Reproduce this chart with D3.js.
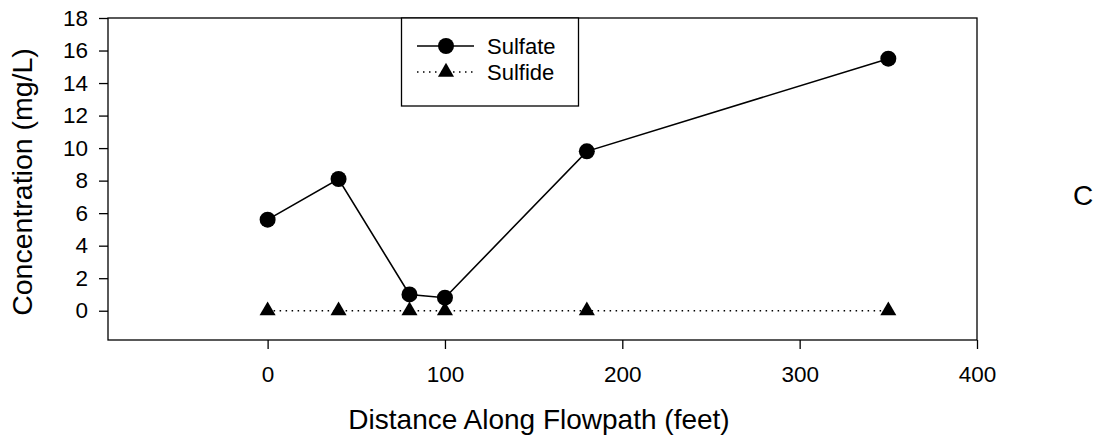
<!DOCTYPE html>
<html>
<head>
<meta charset="utf-8">
<script src="https://cdn.jsdelivr.net/npm/d3@7"></script>
<style>
  html, body { margin: 0; padding: 0; background: #fff; }
  svg { display: block; font-family: Arial, "Liberation Sans", sans-serif; }
</style>
</head>
<body>
<svg id="chart" width="1105" height="441"></svg>
<script>
// Sampling distances along the flowpath (feet)
const distances = [0, 40, 80, 100, 180, 350];
// Measured concentrations (mg/L)
const sulfate = [5.6, 8.1, 1.0, 0.8, 9.8, 15.5];
const sulfide = [0, 0, 0, 0, 0, 0];
// Axis ticks
const xTicks = [0, 100, 200, 300, 400];
const yTicks = [0, 2, 4, 6, 8, 10, 12, 14, 16, 18];
const seriesNames = ["Sulfate", "Sulfide"];

const svg = d3.select("#chart");
const plot = { left: 108, right: 977, top: 18, bottom: 340 };

const x = d3.scaleLinear().domain([-90, 400]).range([plot.left, plot.right]);
const y = d3.scaleLinear().domain([-1.8, 18]).range([plot.bottom, plot.top]);

// Frame
svg.append("rect")
  .attr("x", plot.left).attr("y", plot.top)
  .attr("width", plot.right - plot.left).attr("height", plot.bottom - plot.top)
  .attr("fill", "none").attr("stroke", "#000").attr("stroke-width", 1.3);

// Axes
const xAxis = svg.append("g")
  .attr("transform", `translate(0,${plot.bottom})`)
  .call(d3.axisBottom(x).tickValues(xTicks).tickSize(9).tickPadding(17).tickFormat(d3.format("d")));
const yAxis = svg.append("g")
  .attr("transform", `translate(${plot.left},0)`)
  .call(d3.axisLeft(y).tickValues(yTicks).tickSize(9).tickPadding(11).tickFormat(d3.format("d")));

[xAxis, yAxis].forEach(g => {
  g.select(".domain").remove();
  g.selectAll("line").attr("stroke", "#000").attr("stroke-width", 1.3);
  g.selectAll("text").attr("fill", "#000").style("font-size", "22.5px")
    .style("font-family", "Arial, 'Liberation Sans', sans-serif");
});

// Axis titles
svg.append("text")
  .attr("x", 539).attr("y", 429)
  .attr("text-anchor", "middle").style("font-size", "28px")
  .text("Distance Along Flowpath (feet)");
svg.append("text")
  .attr("transform", `translate(32,182) rotate(-90)`)
  .attr("text-anchor", "middle").style("font-size", "28.5px")
  .text("Concentration (mg/L)");

// Panel label
svg.append("text")
  .attr("x", 1083).attr("y", 205).attr("text-anchor", "middle")
  .style("font-size", "28px").text("C");

const line = d3.line().x(d => x(d[0])).y(d => y(d[1]));
const sulfidePts = distances.map((d, i) => [d, sulfide[i]]);
const sulfatePts = distances.map((d, i) => [d, sulfate[i]]);

const tri = d3.symbol().type(d3.symbolTriangle).size(112);

// Sulfide series: dotted line with triangles
svg.append("path").datum(sulfidePts).attr("d", line)
  .attr("fill", "none").attr("stroke", "#000").attr("stroke-width", 1.5)
  .attr("stroke-dasharray", "1.5,4.5");
svg.selectAll(".tri").data(sulfidePts).join("path")
  .attr("class", "tri")
  .attr("transform", d => `translate(${x(d[0])},${y(d[1])})`)
  .attr("d", tri).attr("fill", "#000");

// Sulfate series: solid line with circles
svg.append("path").datum(sulfatePts).attr("d", line)
  .attr("fill", "none").attr("stroke", "#000").attr("stroke-width", 1.6);
svg.selectAll(".dot").data(sulfatePts).join("circle")
  .attr("class", "dot")
  .attr("cx", d => x(d[0])).attr("cy", d => y(d[1])).attr("r", 8).attr("fill", "#000");

// Legend
const lg = svg.append("g");
lg.append("rect").attr("x", 401.5).attr("y", plot.top).attr("width", 177).attr("height", 88)
  .attr("fill", "#fff").attr("stroke", "#000").attr("stroke-width", 1.3);
const rows = [
  { name: seriesNames[0], y: 46, dash: null, mark: "circle" },
  { name: seriesNames[1], y: 72, dash: "1.5,4.5", mark: "tri" }
];
rows.forEach(r => {
  lg.append("line").attr("x1", 417).attr("x2", 474).attr("y1", r.y).attr("y2", r.y)
    .attr("stroke", "#000").attr("stroke-width", 1.5)
    .attr("stroke-dasharray", r.dash);
  if (r.mark === "circle") {
    lg.append("circle").attr("cx", 446).attr("cy", r.y).attr("r", 8).attr("fill", "#000");
  } else {
    lg.append("path").attr("transform", `translate(446,${r.y})`).attr("d", tri).attr("fill", "#000");
  }
  lg.append("text").attr("x", 487).attr("y", r.y + 8).style("font-size", "22px").text(r.name);
});
</script>
</body>
</html>
